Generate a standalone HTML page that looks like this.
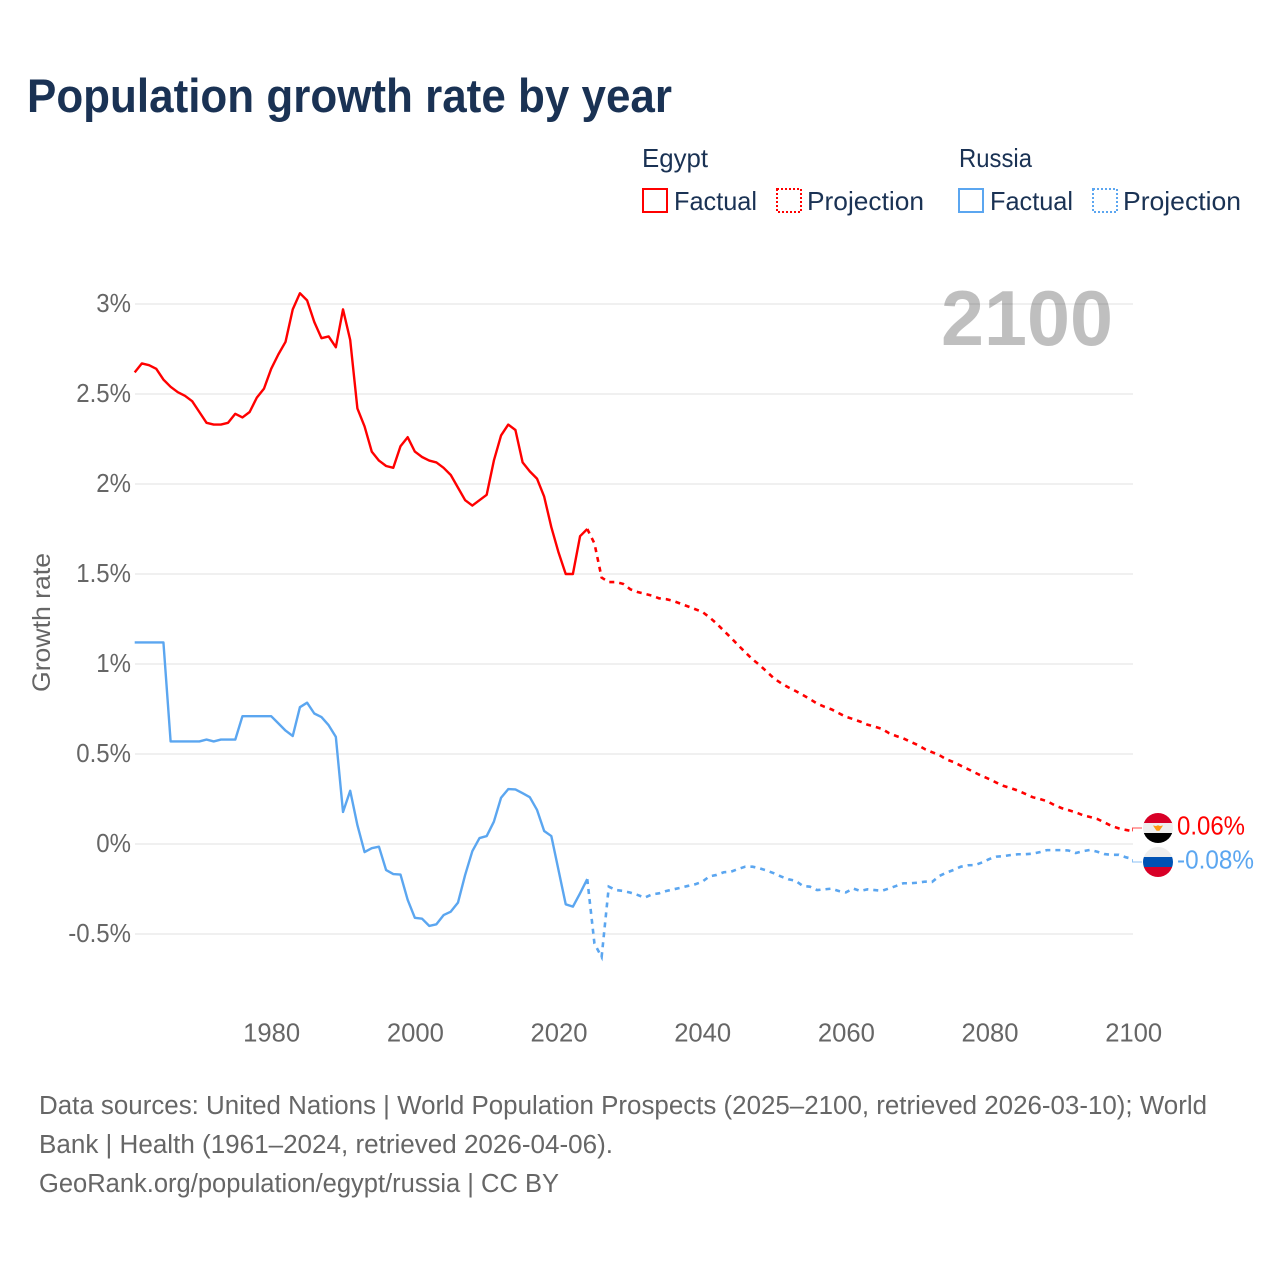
<!DOCTYPE html>
<html lang="en">
<head>
<meta charset="utf-8">
<title>Population growth rate by year</title>
<style>
html,body{margin:0;padding:0;background:#fff;width:1280px;height:1280px;overflow:hidden}
svg{display:block}
text{font-family:"Liberation Sans",sans-serif}
</style>
</head>
<body>
<svg id="chart" width="1280" height="1280" viewBox="0 0 1280 1280" xmlns="http://www.w3.org/2000/svg">
  <rect x="0" y="0" width="1280" height="1280" fill="#fff"/>
  <text x="27" y="112" font-size="47" font-weight="700" fill="#1a3254" textLength="645" lengthAdjust="spacingAndGlyphs">Population growth rate by year</text>

  <g font-size="26" fill="#1a3254">
    <text x="642" y="167" textLength="66" lengthAdjust="spacingAndGlyphs">Egypt</text>
    <text x="959" y="167" textLength="73" lengthAdjust="spacingAndGlyphs">Russia</text>
    <rect x="643" y="189" width="24" height="23" fill="none" stroke="#ff0000" stroke-width="2"/>
    <text x="674" y="210" textLength="83" lengthAdjust="spacingAndGlyphs">Factual</text>
    <rect x="777" y="189" width="24" height="23" fill="none" stroke="#ff0000" stroke-width="2" stroke-dasharray="2 2"/>
    <text x="807" y="210" textLength="117" lengthAdjust="spacingAndGlyphs">Projection</text>
    <rect x="959" y="189" width="24" height="23" fill="none" stroke="#5ba6f0" stroke-width="2"/>
    <text x="990" y="210" textLength="83" lengthAdjust="spacingAndGlyphs">Factual</text>
    <rect x="1093" y="189" width="24" height="23" fill="none" stroke="#5ba6f0" stroke-width="2" stroke-dasharray="2 2"/>
    <text x="1123" y="210" textLength="118" lengthAdjust="spacingAndGlyphs">Projection</text>
  </g>

  <g id="grid"></g>
  <g id="y-ticks"></g>
  <g id="x-ticks"></g>
  <text transform="translate(50,692) rotate(-90)" font-size="25" fill="#666666" textLength="139" lengthAdjust="spacingAndGlyphs">Growth rate</text>
  <text x="941" y="345" font-size="78" font-weight="700" fill="#000000" fill-opacity="0.25" textLength="172" lengthAdjust="spacingAndGlyphs">2100</text>

  <g id="series"></g>

  <g id="end-markers">
    <defs>
      <clipPath id="clip-egypt"><circle cx="1158" cy="828" r="15"/></clipPath>
      <clipPath id="clip-russia"><circle cx="1158" cy="862" r="15"/></clipPath>
    </defs>
    <g clip-path="url(#clip-egypt)">
      <rect x="1143" y="813" width="30" height="10.5" fill="#d80027"/>
      <rect x="1143" y="823" width="30" height="10" fill="#eeeeee"/>
      <rect x="1143" y="833" width="30" height="10" fill="#000000"/>
      <path d="M1153 825.5l3 .5 2-.8 2 .8 3-.5-2 3-1.6 2.2h-2.8l-1.6-2.2z" fill="#ff9811"/>
    </g>
    <g clip-path="url(#clip-russia)">
      <rect x="1143" y="847" width="30" height="10" fill="#eeeeee"/>
      <rect x="1143" y="857" width="30" height="10.4" fill="#0052b4"/>
      <rect x="1143" y="867" width="30" height="10" fill="#d80027"/>
    </g>
  </g>

  <g font-size="25.5" fill="#666666">
    <text x="39" y="1114" textLength="1168" lengthAdjust="spacingAndGlyphs">Data sources: United Nations | World Population Prospects (2025–2100, retrieved 2026-03-10); World</text>
    <text x="39" y="1153" textLength="574" lengthAdjust="spacingAndGlyphs">Bank | Health (1961–2024, retrieved 2026-04-06).</text>
    <text x="39" y="1192" textLength="520" lengthAdjust="spacingAndGlyphs">GeoRank.org/population/egypt/russia | CC BY</text>
  </g>
</svg>

<script>
const yTickValues = [3, 2.5, 2, 1.5, 1, 0.5, 0, -0.5];
const yTickLabels = ["3%", "2.5%", "2%", "1.5%", "1%", "0.5%", "0%", "-0.5%"];
const xTickYears = [1980, 2000, 2020, 2040, 2060, 2080, 2100];

const factualYears = [1961,1962,1963,1964,1965,1966,1967,1968,1969,1970,1971,1972,1973,1974,1975,1976,1977,1978,1979,1980,1981,1982,1983,1984,1985,1986,1987,1988,1989,1990,1991,1992,1993,1994,1995,1996,1997,1998,1999,2000,2001,2002,2003,2004,2005,2006,2007,2008,2009,2010,2011,2012,2013,2014,2015,2016,2017,2018,2019,2020,2021,2022,2023,2024];

const projectionYears = [2024,2025,2026,2027,2028,2029,2030,2031,2032,2033,2034,2035,2036,2037,2038,2039,2040,2041,2042,2043,2044,2045,2046,2047,2048,2049,2050,2051,2052,2053,2054,2055,2056,2057,2058,2059,2060,2061,2062,2063,2064,2065,2066,2067,2068,2069,2070,2071,2072,2073,2074,2075,2076,2077,2078,2079,2080,2081,2082,2083,2084,2085,2086,2087,2088,2089,2090,2091,2092,2093,2094,2095,2096,2097,2098,2099,2100];

const egyptFactual = [2.62,2.67,2.66,2.64,2.58,2.54,2.51,2.49,2.46,2.40,2.34,2.33,2.33,2.34,2.39,2.37,2.40,2.48,2.53,2.64,2.72,2.79,2.97,3.06,3.02,2.90,2.81,2.82,2.76,2.97,2.80,2.42,2.32,2.18,2.13,2.10,2.09,2.21,2.26,2.18,2.15,2.13,2.12,2.09,2.05,1.98,1.91,1.88,1.91,1.94,2.13,2.27,2.33,2.30,2.12,2.07,2.03,1.93,1.76,1.62,1.50,1.50,1.71,1.75];

const egyptProjection = [1.75,1.67,1.48,1.455,1.455,1.445,1.415,1.40,1.39,1.38,1.365,1.36,1.35,1.335,1.32,1.305,1.29,1.26,1.225,1.185,1.146,1.105,1.065,1.026,0.994,0.957,0.92,0.893,0.87,0.85,0.828,0.805,0.78,0.763,0.748,0.727,0.707,0.694,0.68,0.663,0.652,0.64,0.616,0.60,0.587,0.568,0.55,0.527,0.51,0.494,0.47,0.455,0.435,0.416,0.396,0.377,0.36,0.34,0.322,0.31,0.296,0.278,0.26,0.25,0.238,0.217,0.20,0.188,0.176,0.16,0.15,0.139,0.12,0.10,0.087,0.078,0.07];

const russiaFactual = [1.12,1.12,1.12,1.12,1.12,0.57,0.57,0.57,0.57,0.57,0.58,0.57,0.58,0.58,0.58,0.71,0.71,0.71,0.71,0.71,0.67,0.63,0.60,0.76,0.785,0.725,0.705,0.66,0.595,0.178,0.296,0.105,-0.045,-0.023,-0.015,-0.145,-0.167,-0.17,-0.31,-0.41,-0.415,-0.455,-0.446,-0.395,-0.376,-0.326,-0.172,-0.04,0.033,0.044,0.124,0.257,0.305,0.303,0.282,0.26,0.19,0.072,0.044,-0.145,-0.335,-0.348,-0.274,-0.195];

const russiaProjection = [-0.195,-0.553,-0.628,-0.237,-0.256,-0.261,-0.27,-0.283,-0.298,-0.28,-0.274,-0.261,-0.252,-0.243,-0.233,-0.224,-0.21,-0.18,-0.172,-0.157,-0.154,-0.139,-0.126,-0.126,-0.135,-0.148,-0.163,-0.181,-0.196,-0.204,-0.233,-0.237,-0.256,-0.252,-0.248,-0.261,-0.269,-0.247,-0.261,-0.252,-0.256,-0.26,-0.247,-0.233,-0.218,-0.218,-0.215,-0.209,-0.211,-0.178,-0.159,-0.144,-0.126,-0.118,-0.117,-0.102,-0.083,-0.07,-0.067,-0.061,-0.057,-0.057,-0.054,-0.045,-0.034,-0.034,-0.034,-0.036,-0.05,-0.04,-0.033,-0.043,-0.056,-0.06,-0.06,-0.074,-0.084];

const endLabels = ["0.06%", "-0.08%"];

const SVG_NS = "http://www.w3.org/2000/svg";
function xScale(year) { return 134.7 + (year - 1961) * (1133.2 - 134.7) / 139; }
function yScale(value) { return 844 - value * 180; }
function node(tag) { return document.createElementNS(SVG_NS, tag); }

const gridGroup = document.getElementById("grid");
const yTickGroup = document.getElementById("y-ticks");
const xTickGroup = document.getElementById("x-ticks");
const seriesGroup = document.getElementById("series");
const markerGroup = document.getElementById("end-markers");

yTickValues.forEach(function (value, i) {
  const line = node("line");
  
  
  line.setAttribute("x1", 135);
  line.setAttribute("x2", 1133);
  line.setAttribute("y1", yScale(value));
  line.setAttribute("y2", yScale(value));
  line.setAttribute("stroke", "#f0f0f0");
  line.setAttribute("stroke-width", 2);
  gridGroup.appendChild(line);

  const label = node("text");
  
  
  label.setAttribute("x", 131);
  label.setAttribute("y", yScale(value) + 8);
  label.setAttribute("text-anchor", "end");
  label.setAttribute("font-size", 26);
  label.setAttribute("fill", "#666666");
  label.textContent = yTickLabels[i];
  yTickGroup.appendChild(label);
  label.setAttribute("textLength", (label.getComputedTextLength() * 24 / 26).toFixed(1));
  label.setAttribute("lengthAdjust", "spacingAndGlyphs");
});

xTickYears.forEach(function (year) {
  const label = node("text");
  
  
  label.setAttribute("x", xScale(year) - 28);
  label.setAttribute("y", 1041.5);
  label.setAttribute("font-size", 26);
  label.setAttribute("fill", "#666666");
  label.setAttribute("textLength", 57);
  label.setAttribute("lengthAdjust", "spacingAndGlyphs");
  label.textContent = String(year);
  xTickGroup.appendChild(label);
});

function pathFrom(years, values) {
  return values.map(function (v, i) {
    return (i ? "L" : "M") + xScale(years[i]).toFixed(2) + " " + yScale(v).toFixed(2);
  }).join("");
}

const egyptFactualLine = node("path");


egyptFactualLine.setAttribute("d", pathFrom(factualYears, egyptFactual));
egyptFactualLine.setAttribute("fill", "none");
egyptFactualLine.setAttribute("stroke", "#ff0000");
egyptFactualLine.setAttribute("stroke-width", 2.4);
egyptFactualLine.setAttribute("stroke-linejoin", "round");
seriesGroup.appendChild(egyptFactualLine);

const egyptProjectionLine = node("path");


egyptProjectionLine.setAttribute("d", pathFrom(projectionYears, egyptProjection));
egyptProjectionLine.setAttribute("fill", "none");
egyptProjectionLine.setAttribute("stroke", "#ff0000");
egyptProjectionLine.setAttribute("stroke-width", 2.6);
egyptProjectionLine.setAttribute("stroke-dasharray", "5 5");
seriesGroup.appendChild(egyptProjectionLine);

const russiaFactualLine = node("path");


russiaFactualLine.setAttribute("d", pathFrom(factualYears, russiaFactual));
russiaFactualLine.setAttribute("fill", "none");
russiaFactualLine.setAttribute("stroke", "#5ba6f0");
russiaFactualLine.setAttribute("stroke-width", 2.4);
russiaFactualLine.setAttribute("stroke-linejoin", "round");
seriesGroup.appendChild(russiaFactualLine);

const russiaProjectionLine = node("path");


russiaProjectionLine.setAttribute("d", pathFrom(projectionYears, russiaProjection));
russiaProjectionLine.setAttribute("fill", "none");
russiaProjectionLine.setAttribute("stroke", "#5ba6f0");
russiaProjectionLine.setAttribute("stroke-width", 2.6);
russiaProjectionLine.setAttribute("stroke-dasharray", "5 5");
seriesGroup.appendChild(russiaProjectionLine);

const egyptEndY = yScale(egyptProjection[egyptProjection.length - 1]);
const russiaEndY = yScale(russiaProjection[russiaProjection.length - 1]);

const egyptLeader = node("path");


egyptLeader.setAttribute("d", "M1132.5 " + egyptEndY + "V828H1142");
egyptLeader.setAttribute("fill", "none");
egyptLeader.setAttribute("stroke", "#ff0000");
egyptLeader.setAttribute("stroke-width", 1);
egyptLeader.setAttribute("stroke-opacity", 0.7);
markerGroup.appendChild(egyptLeader);

const russiaLeader = node("path");


russiaLeader.setAttribute("d", "M1132.5 " + russiaEndY + "V862H1142");
russiaLeader.setAttribute("fill", "none");
russiaLeader.setAttribute("stroke", "#5ba6f0");
russiaLeader.setAttribute("stroke-width", 1);
russiaLeader.setAttribute("stroke-opacity", 0.7);
markerGroup.appendChild(russiaLeader);

const egyptEndLabel = node("text");


egyptEndLabel.setAttribute("x", 1177);
egyptEndLabel.setAttribute("y", 834.5);
egyptEndLabel.setAttribute("font-size", 25.5);
egyptEndLabel.setAttribute("fill", "#ff0000");
egyptEndLabel.setAttribute("textLength", 68);
egyptEndLabel.setAttribute("lengthAdjust", "spacingAndGlyphs");
egyptEndLabel.textContent = endLabels[0];
markerGroup.appendChild(egyptEndLabel);

const russiaEndLabel = node("text");


russiaEndLabel.setAttribute("x", 1177);
russiaEndLabel.setAttribute("y", 868.5);
russiaEndLabel.setAttribute("font-size", 25.5);
russiaEndLabel.setAttribute("fill", "#5ba6f0");
russiaEndLabel.setAttribute("textLength", 77);
russiaEndLabel.setAttribute("lengthAdjust", "spacingAndGlyphs");
russiaEndLabel.textContent = endLabels[1];
markerGroup.appendChild(russiaEndLabel);
</script>
</body>
</html>
